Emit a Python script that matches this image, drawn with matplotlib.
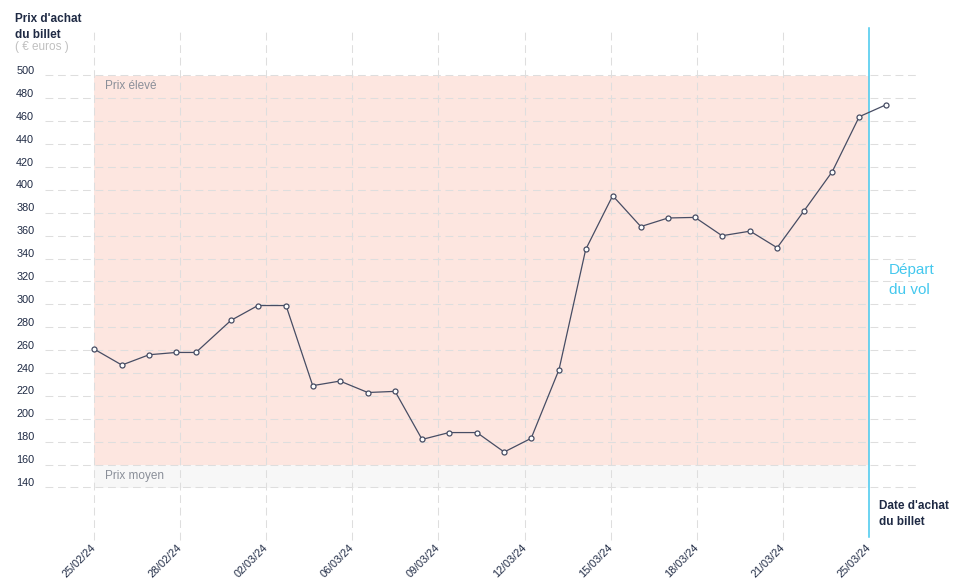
import matplotlib.pyplot as plt
from matplotlib.transforms import ScaledTranslation

# --- data ---
# x positions are in "tick slots" (tick labels sit at 0, 3, 6, ... 27)
positions = [0.0, 0.97, 1.92, 2.86, 3.55, 4.77, 5.71, 6.69, 7.62, 8.57,
             9.54, 10.49, 11.43, 12.37, 13.34, 14.29, 15.23, 16.20, 17.13, 18.07,
             19.05, 20.00, 20.94, 21.88, 22.86, 23.80, 24.73, 25.72, 26.66, 27.60]
prices = [261, 247, 256, 258, 258, 286, 299, 299, 229, 233,
          223, 224, 182, 188, 188, 171, 183, 243, 348, 395,
          368, 375.5, 376, 360, 364, 349.5, 381.5, 416, 464, 474.5]

tick_pos = [0, 3, 6, 9, 12, 15, 18, 21, 24, 27]
tick_labels = ["25/02/24", "28/02/24", "02/03/24", "06/03/24", "09/03/24",
               "12/03/24", "15/03/24", "18/03/24", "21/03/24", "25/03/24"]
y_ticks = list(range(140, 501, 20))

band_high = (160, 500)
band_mid = (140, 160)
departure_pos = 27

NAVY = "#1f2a44"
LINE = "#474d64"
CYAN = "#44c8ee"
GRID = "#dedede"

plt.rcParams["font.family"] = ["Liberation Sans", "DejaVu Sans"]

fig = plt.figure(figsize=(9.58, 5.85), dpi=100)
ax = fig.add_axes([94 / 958, 97.5 / 585, 775 / 958, 412 / 585])
ax.set_xlim(0, 27)
ax.set_ylim(140, 500)
for s in ax.spines.values():
    s.set_visible(False)

# price bands
ax.axhspan(*band_high, color="#fde6e0", lw=0, zorder=0)
ax.axhspan(*band_mid, color="#f7f7f7", lw=0, zorder=0)
ax.text(0.38, 491, "Prix élevé", color="#8a8f99", fontsize=8.5, va="center")
ax.text(0.38, 150, "Prix moyen", color="#8a8f99", fontsize=8.5, va="center")

# dashed grid, extending beyond the plot area
for y in y_ticks:
    ax.axhline(y, xmin=-0.063, xmax=1.063, color=GRID, lw=0.75,
               ls=(0, (7.5, 4.5)), clip_on=False, zorder=1)
for x in tick_pos[:-1]:
    ax.axvline(x, ymin=-0.127, ymax=1.116, color=GRID, lw=0.75,
               ls=(0, (7.5, 4.5)), clip_on=False, zorder=1)

# departure line
ax.axvline(departure_pos, ymin=-0.12, ymax=1.116, color=CYAN, lw=1.1,
           clip_on=False, zorder=2)

# price line
ax.plot(positions, prices, color=LINE, lw=0.9, marker="o", ms=3.6,
        mfc="white", mec=LINE, mew=0.9, clip_on=False, zorder=3)

# ticks
ax.set_xticks(tick_pos)
ax.set_xticklabels(tick_labels, rotation=45, ha="right", va="center",
                   rotation_mode="anchor", color=NAVY, fontsize=7.8)
ax.tick_params(axis="x", length=0, pad=42)
ax.set_yticks(y_ticks)
ax.set_yticklabels([str(v) for v in y_ticks], ha="left", va="baseline",
                   color=NAVY, fontsize=7.8)
ax.tick_params(axis="y", length=0, pad=56)
offset = ScaledTranslation(0, 1.5 / 100, fig.dpi_scale_trans)
for lab in ax.get_yticklabels():
    lab.set_transform(lab.get_transform() + offset)

# titles / annotations
fig.text(15 / 958, 1 - 13 / 585, "Prix d'achat\ndu billet", fontsize=8.5,
         fontweight="bold", color=NAVY, va="top", ha="left", linespacing=1.45)
fig.text(15 / 958, 1 - 41 / 585, "( € euros )", fontsize=8.5, color="#c0c0c0",
         va="top", ha="left")
fig.text(879 / 958, 1 - 500 / 585, "Date d'achat\ndu billet", fontsize=8.5,
         fontweight="bold", color=NAVY, va="top", ha="left", linespacing=1.45)
fig.text(889 / 958, 1 - 263 / 585, "Départ\ndu vol", fontsize=11, color=CYAN,
         va="top", ha="left", linespacing=1.55)

fig.savefig("out.png", dpi=100)
